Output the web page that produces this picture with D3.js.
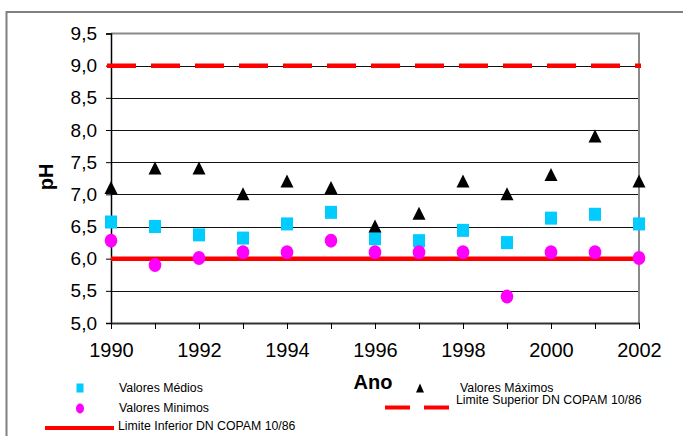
<!DOCTYPE html>
<html><head><meta charset="utf-8">
<script src="https://cdn.jsdelivr.net/npm/d3@7"></script>
<style>body{margin:0;background:#fff}svg{display:block;font-family:Arial,"Liberation Sans",sans-serif}</style>
</head><body>
<svg id="c" width="683" height="436"></svg>
<script>
const years = [1990,1991,1992,1993,1994,1995,1996,1997,1998,1999,2000,2001,2002];
const valoresMedios = [6.57,6.50,6.37,6.32,6.54,6.72,6.31,6.28,6.44,6.25,6.63,6.69,6.54];
const valoresMinimos = [6.28,5.90,6.01,6.10,6.10,6.28,6.10,6.10,6.10,5.41,6.10,6.10,6.01];
const valoresMaximos = [7.10,7.40,7.40,7.00,7.20,7.10,6.50,6.70,7.20,7.00,7.30,7.90,7.20];
const limiteSuperior = 9.0;
const limiteInferior = 6.0;
const yTicks = [5.0,5.5,6.0,6.5,7.0,7.5,8.0,8.5,9.0,9.5];
const xTickLabels = [1990,1992,1994,1996,1998,2000,2002];

const svg = d3.select("#c");
const x = d3.scaleLinear().domain([1990,2002]).range([111,639]);
const y = d3.scaleLinear().domain([5.0,9.5]).range([323,33.5]);
const fmt = v => d3.format(".1f")(v).replace(".", ",");

// outer frame
svg.append("path").attr("d","M6.5,436 V12 H683").attr("fill","none").attr("stroke","#808080").attr("stroke-width",2);

// gridlines
svg.append("g").selectAll("line").data(yTicks.filter(v=>v>5 && v<9.5)).join("line")
  .attr("x1",x(1990)).attr("x2",x(2002))
  .attr("y1",d=>Math.round(y(d))+0.5).attr("y2",d=>Math.round(y(d))+0.5)
  .attr("stroke","#111").attr("stroke-width",1);
// top & right border
svg.append("path").attr("d",`M${x(1990)},${y(9.5)} H${x(2002)} V${y(5)}`)
  .attr("fill","none").attr("stroke","#8a8a8a").attr("stroke-width",2);

// y axis
const yAxis = d3.axisLeft(y).tickValues(yTicks).tickFormat(fmt).tickSize(5).tickPadding(9);
const gy = svg.append("g").attr("transform",`translate(${x(1990)},0)`).call(yAxis);
gy.select(".domain").attr("stroke","#000").attr("stroke-width",1.5);
gy.selectAll(".tick line").attr("stroke","#000");
gy.selectAll("text").attr("font-size",19).attr("font-family","Arial, 'Liberation Sans', sans-serif").attr("fill","#000");

// x axis
const xAxis = d3.axisBottom(x).tickValues(years).tickFormat(d => xTickLabels.includes(d) ? d : "").tickSize(6).tickSizeOuter(0).tickPadding(14);
const gx = svg.append("g").attr("transform",`translate(0,${y(5)})`).call(xAxis);
gx.select(".domain").attr("stroke","#333").attr("stroke-width",2);
gx.selectAll(".tick line").attr("stroke","#000");
gx.selectAll("text").attr("font-size",20).attr("font-family","Arial, 'Liberation Sans', sans-serif").attr("fill","#000");

// limit lines
svg.append("line").attr("x1",x(1990)-4).attr("x2",x(2002)+2)
  .attr("y1",y(limiteSuperior)).attr("y2",y(limiteSuperior))
  .attr("stroke","#ff0000").attr("stroke-width",4.5).attr("stroke-dasharray","29,15");
svg.append("line").attr("x1",x(1990)).attr("x2",x(2002))
  .attr("y1",y(limiteInferior)).attr("y2",y(limiteInferior))
  .attr("stroke","#ff0000").attr("stroke-width",4.5);

// markers
svg.append("g").selectAll("rect").data(years).join("rect")
  .attr("x",(d,i)=>x(d)-6).attr("y",(d,i)=>y(valoresMedios[i])-6.5)
  .attr("width",12).attr("height",13).attr("fill","#00ccff");
svg.append("g").selectAll("ellipse").data(years).join("ellipse")
  .attr("cx",d=>x(d)).attr("cy",(d,i)=>y(valoresMinimos[i]))
  .attr("rx",6.3).attr("ry",7).attr("fill","#ff00ff");
svg.append("g").selectAll("path").data(years).join("path")
  .attr("d",(d,i)=>{const cx=x(d), cy=y(valoresMaximos[i]); return `M${cx},${cy-7}L${cx+6.5},${cy+6}L${cx-6.5},${cy+6}Z`;})
  .attr("fill","#000");

// axis titles
svg.append("text").attr("transform","translate(53,177) rotate(-90)").attr("text-anchor","middle")
  .attr("font-size",20).attr("font-weight","bold").text("pH");
svg.append("text").attr("x",373).attr("y",389).attr("text-anchor","middle")
  .attr("font-size",20).attr("font-weight","bold").text("Ano");

// legend
const lg = svg.append("g").attr("font-size",12.3).attr("fill","#000");
lg.append("rect").attr("x",76.5).attr("y",383.5).attr("width",7).attr("height",9).attr("fill","#00ccff");
lg.append("text").attr("x",119).attr("y",392).text("Valores Médios");
lg.append("ellipse").attr("cx",80).attr("cy",408.5).attr("rx",4).attr("ry",5).attr("fill","#ff00ff");
lg.append("text").attr("x",119).attr("y",412).text("Valores Minimos");
lg.append("line").attr("x1",45).attr("x2",114).attr("y1",428).attr("y2",428).attr("stroke","#ff0000").attr("stroke-width",4);
lg.append("text").attr("x",118).attr("y",430).text("Limite Inferior DN COPAM 10/86");
lg.append("path").attr("d","M420,383.5L424,392.5L416,392.5Z").attr("fill","#000");
lg.append("text").attr("x",460).attr("y",391.5).text("Valores Máximos");
lg.append("line").attr("x1",385).attr("x2",451).attr("y1",407.5).attr("y2",407.5).attr("stroke","#ff0000").attr("stroke-width",4).attr("stroke-dasharray","25,14");
lg.append("text").attr("x",456).attr("y",404).text("Limite Superior DN COPAM 10/86");
</script>
</body></html>
